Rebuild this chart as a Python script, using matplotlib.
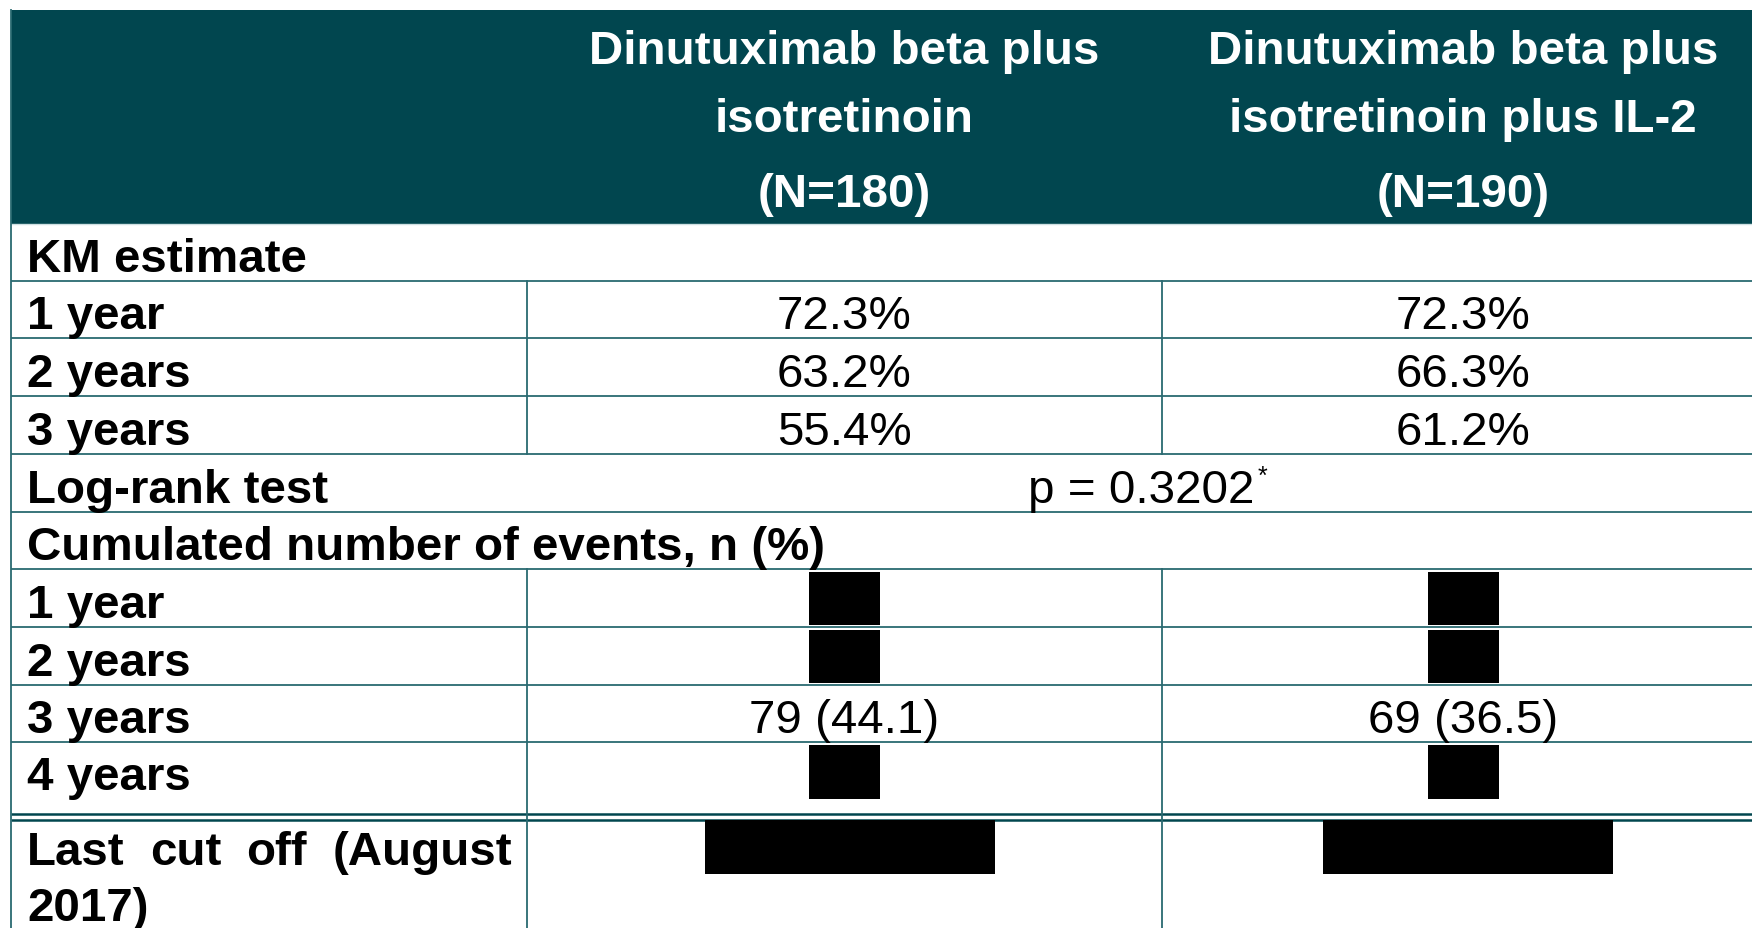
import matplotlib
matplotlib.use("Agg")
import matplotlib.pyplot as plt
from matplotlib.patches import Rectangle

# ---------------- data ----------------
col_headers = [
    ["Dinutuximab beta plus", "isotretinoin", "(N=180)"],
    ["Dinutuximab beta plus", "isotretinoin plus IL-2", "(N=190)"],
]
km_labels = ["1 year", "2 years", "3 years"]
km_arm1 = ["72.3%", "63.2%", "55.4%"]
km_arm2 = ["72.3%", "66.3%", "61.2%"]
logrank_label = "Log-rank test"
logrank_p = "p = 0.3202"
events_labels = ["1 year", "2 years", "3 years", "4 years"]
events_arm1 = [None, None, "79 (44.1)", None]   # None = redacted
events_arm2 = [None, None, "69 (36.5)", None]
section_km = "KM estimate"
section_events = "Cumulated number of events, n (%)"
cutoff_words_line1 = ["Last", "cut", "off", "(August"]
cutoff_line2 = "2017)"

# ---------------- layout (pixels) ----------------
W, H = 1752, 929
HEAD = "#01464F"
LINE = "#2a6a71"
FONT = "Liberation Sans"
FS = 34.2

fig = plt.figure(figsize=(W / 100, H / 100), dpi=100)
ax = fig.add_axes([0, 0, 1, 1])
ax.set_xlim(0, W)
ax.set_ylim(H, 0)
ax.axis("off")

left, c1, c2, right = 11, 527, 1162, 1764
cx = [(c1 + c2) / 2, (c2 + right) / 2]
row_edges = [225, 282, 339, 397, 455, 513, 570, 628, 686, 743]
dbl = [815, 821]
label_x = 27

# header
ax.add_patch(Rectangle((left, 11), W - left, 225 - 11, facecolor=HEAD, edgecolor="none"))
head_base = [64, 132, 207]
for j, lines in enumerate(col_headers):
    for k, t in enumerate(lines):
        ax.text(cx[j], head_base[k], t, ha="center", va="baseline", color="white",
                fontsize=FS, fontweight="bold", family=FONT)

def base(i):
    return row_edges[i + 1] - 10 if i + 1 < len(row_edges) else 790

def label(i, t):
    ax.text(label_x, base(i), t, ha="left", va="baseline", color="black",
            fontsize=FS, fontweight="bold", family=FONT)

def value(i, j, t):
    ax.text(cx[j], base(i), t, ha="center", va="baseline", color="black",
            fontsize=FS, family=FONT)

def redact(i, j, w=71):
    y0 = row_edges[i] + 3
    y1 = (row_edges[i + 1] if i + 1 < len(row_edges) else 802) - 2
    ax.add_patch(Rectangle((cx[j] - w / 2, y0), w, y1 - y0, facecolor="black",
                           edgecolor="none", zorder=3))

label(0, section_km)
for k, lab in enumerate(km_labels):
    label(1 + k, lab)
    value(1 + k, 0, km_arm1[k])
    value(1 + k, 1, km_arm2[k])

label(4, logrank_label)
pt = ax.text((c1 + right) / 2 - 4, base(4), logrank_p, ha="center", va="baseline",
             color="black", fontsize=FS, family=FONT)
ax.annotate("*", xy=(1, 1), xycoords=pt, xytext=(2, 3), textcoords="offset points",
            ha="left", va="top", fontsize=18, family=FONT, color="black")

label(5, section_events)
for k, lab in enumerate(events_labels):
    i = 6 + k
    label(i, lab)
    for j, vals in enumerate([events_arm1, events_arm2]):
        if vals[k] is None:
            redact(i, j)
        else:
            value(i, j, vals[k])

# last cut off row: justified first line
fig.canvas.draw()
r = fig.canvas.get_renderer()
words = []
for wd in cutoff_words_line1:
    words.append(ax.text(0, 865, wd, ha="left", va="baseline", fontsize=FS,
                         fontweight="bold", family=FONT, color="black"))
widths = [t.get_window_extent(r).width for t in words]
span = 512 - label_x
gap = (span - sum(widths)) / (len(words) - 1)
x = label_x
for t, wdt in zip(words, widths):
    t.set_x(x)
    x += wdt + gap
ax.text(label_x, 921, cutoff_line2, ha="left", va="baseline", fontsize=FS,
        fontweight="bold", family=FONT, color="black")
for j in range(2):
    ax.add_patch(Rectangle((cx[j] + 5 - 145, 821), 290, 54, facecolor="black",
                           edgecolor="none", zorder=3))

# grid lines
for y in row_edges[1:]:
    ax.plot([left, W], [y, y], color=LINE, lw=1.3, solid_capstyle="butt")
ax.plot([left, W], [225, 225], color="#cfe0e2", lw=1.0)
for y in dbl:
    ax.plot([left, W], [y, y], color=HEAD, lw=1.8, solid_capstyle="butt")
ax.plot([left, left], [11, H], color=LINE, lw=1.3)
for x in (c1, c2):
    ax.plot([x, x], [282, 455], color=LINE, lw=1.3)
    ax.plot([x, x], [570, H], color=LINE, lw=1.3)

fig.savefig("out.png", dpi=100)
